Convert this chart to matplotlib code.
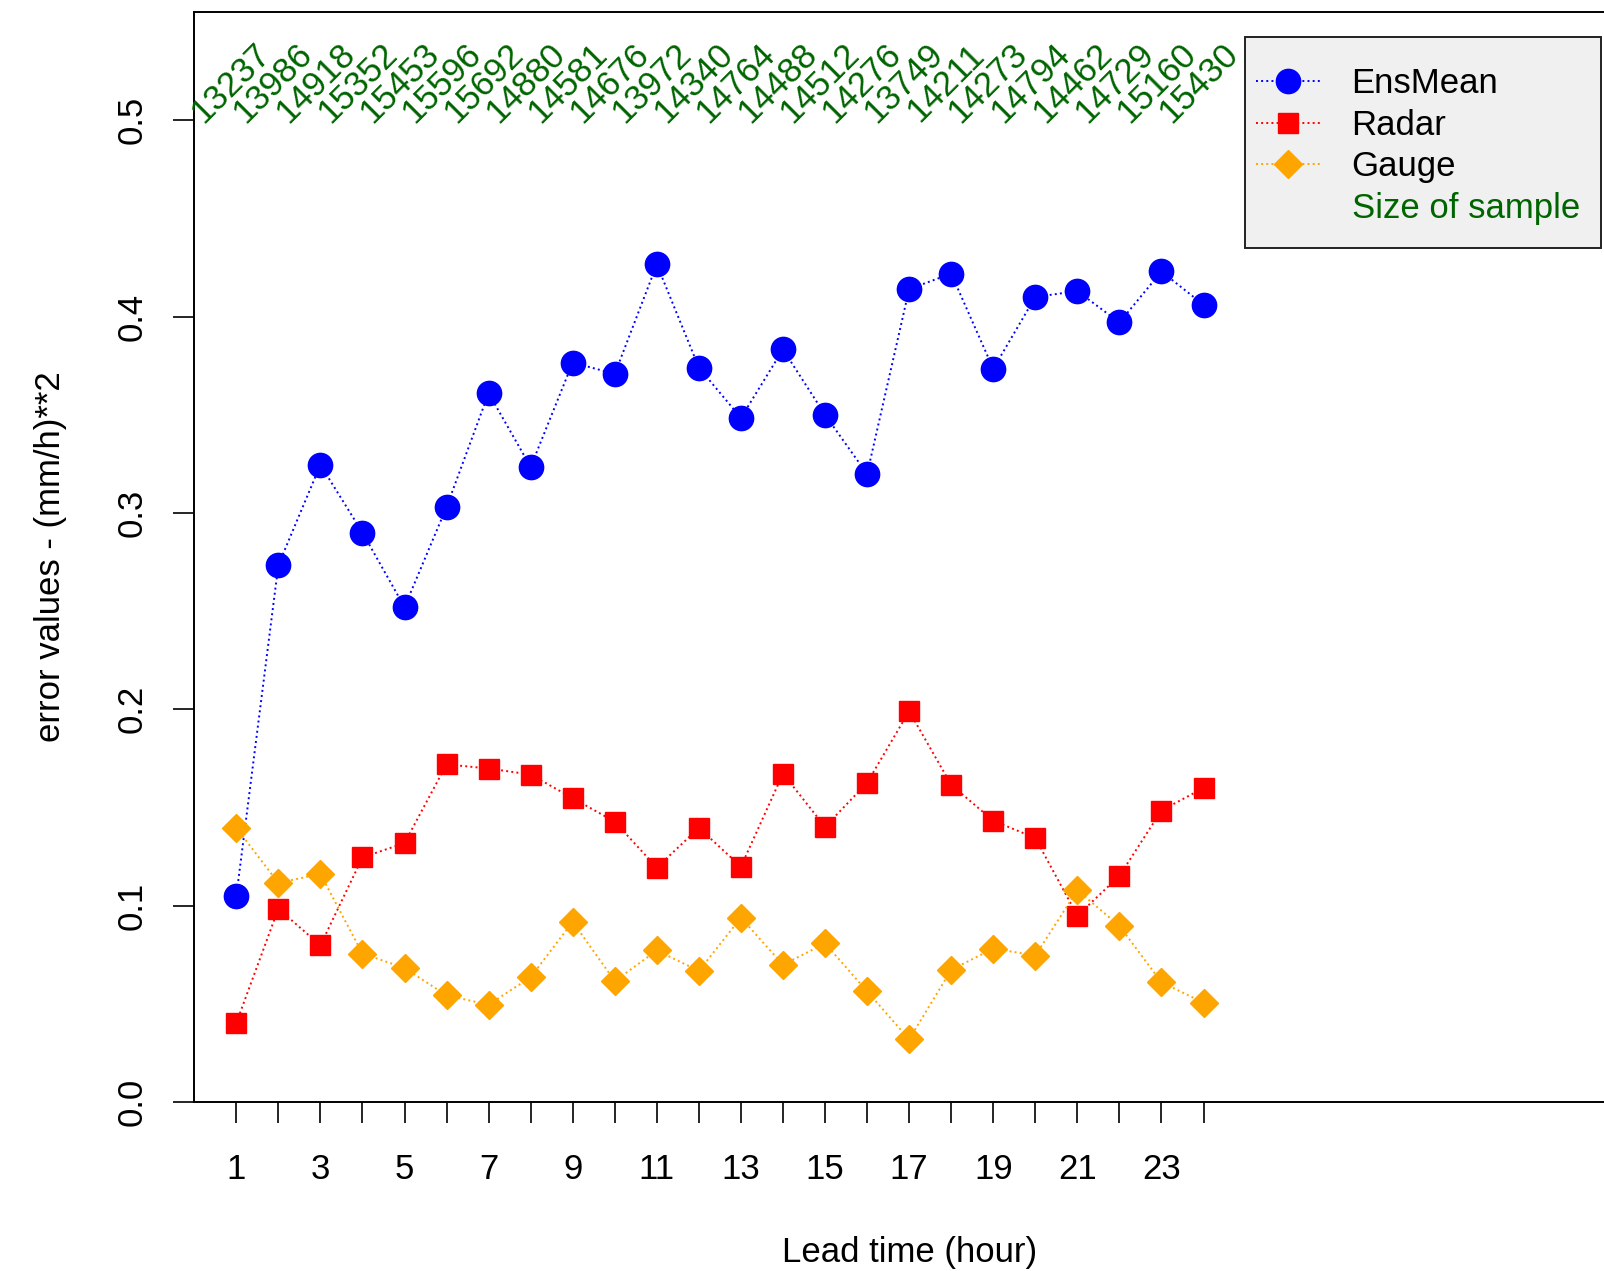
import matplotlib
matplotlib.use("Agg")
import matplotlib.pyplot as plt
from matplotlib.lines import Line2D
from matplotlib.patches import Rectangle

plt.rcParams['font.family'] = ['Liberation Sans', 'DejaVu Sans']

lead_time = list(range(1, 25))

ens_mean = [0.1047, 0.2734, 0.3245, 0.2900, 0.2520, 0.3030, 0.3610, 0.3234,
            0.3766, 0.3708, 0.4266, 0.3740, 0.3484, 0.3833, 0.3500, 0.3198,
            0.4140, 0.4219, 0.3734, 0.4100, 0.4130, 0.3970, 0.4230, 0.4060]
radar = [0.0401, 0.0984, 0.0797, 0.1245, 0.1318, 0.1719, 0.1698, 0.1667,
         0.1547, 0.1427, 0.1193, 0.1396, 0.1198, 0.1672, 0.1401, 0.1625,
         0.1990, 0.1615, 0.1432, 0.1344, 0.0948, 0.1151, 0.1484, 0.1599]
gauge = [0.1396, 0.1115, 0.1161, 0.0755, 0.0682, 0.0542, 0.0495, 0.0635,
         0.0917, 0.0615, 0.0771, 0.0667, 0.0938, 0.0698, 0.0807, 0.0563,
         0.0318, 0.0672, 0.0781, 0.0745, 0.1078, 0.0896, 0.0609, 0.0505]
sample_size = [13237, 13986, 14918, 15352, 15453, 15596, 15692, 14880,
               14581, 14676, 13972, 14340, 14764, 14488, 14512, 14276,
               13749, 14211, 14273, 14794, 14462, 14729, 15160, 15430]

FS = 25
green = '#006400'
styles = [
    dict(color='blue', ls=':', lw=1.4, marker='o', ms=17.5),
    dict(color='red', ls=':', lw=1.4, marker='s', ms=15),
    dict(color='orange', ls=':', lw=1.4, marker='D', ms=14.5),
]

fig = plt.figure(figsize=(16.04, 12.71), dpi=100)
# plot region runs a little past the right edge of the image
ax = fig.add_axes([0.1211, 0.1331, 0.8914, 0.8572])

for series, st in zip([ens_mean, radar, gauge], styles):
    ax.plot(lead_time, series, **st)

# sample sizes written above each lead time
for x, n in zip(lead_time, sample_size):
    ax.text(x - 0.12, 0.519, str(n), rotation=45, ha='center', va='center',
            color=green, fontsize=FS)

ax.set_xlim(0, 34.0)
ax.set_ylim(0, 0.555)
ax.set_xticks(lead_time)
ax.set_xticklabels([str(x) if x % 2 == 1 else '' for x in lead_time])
ax.set_yticks([0.0, 0.1, 0.2, 0.3, 0.4, 0.5])
ax.set_yticklabels(['0.0', '0.1', '0.2', '0.3', '0.4', '0.5'],
                   rotation=90, va='center')
ax.tick_params(axis='x', direction='out', length=14.8, width=1.2,
               labelsize=FS, pad=22)
ax.tick_params(axis='y', direction='out', length=14.8, width=1.2,
               labelsize=FS, pad=18)
for side in ['left', 'bottom', 'top']:
    ax.spines[side].set_linewidth(1.4)
ax.spines['right'].set_visible(False)

ax.set_xlabel('Lead time (hour)', fontsize=FS, labelpad=36)
ax.set_ylabel('error values - (mm/h)**2', fontsize=FS, labelpad=35)

# legend box drawn separately so its padding can be set freely
box = Rectangle((0.7349, 0.7840), 0.9838 - 0.7349, 0.9775 - 0.7840,
                transform=ax.transAxes, facecolor='#f0f0f0',
                edgecolor='#222222', lw=1.4, zorder=4, clip_on=False)
ax.add_patch(box)

handles = [Line2D([], [], **st) for st in styles]
handles.append(Line2D([], [], color='none'))
leg = ax.legend(handles, ['EnsMean', 'Radar', 'Gauge', 'Size of sample'],
                loc='upper left', bbox_to_anchor=(0.7426, 0.9498),
                fontsize=FS, frameon=False,
                handlelength=1.83, handletextpad=0.92, labelspacing=0.25,
                borderpad=0, borderaxespad=0)
leg.set_zorder(5)
leg.get_texts()[3].set_color(green)

fig.savefig('out.png', dpi=100)
